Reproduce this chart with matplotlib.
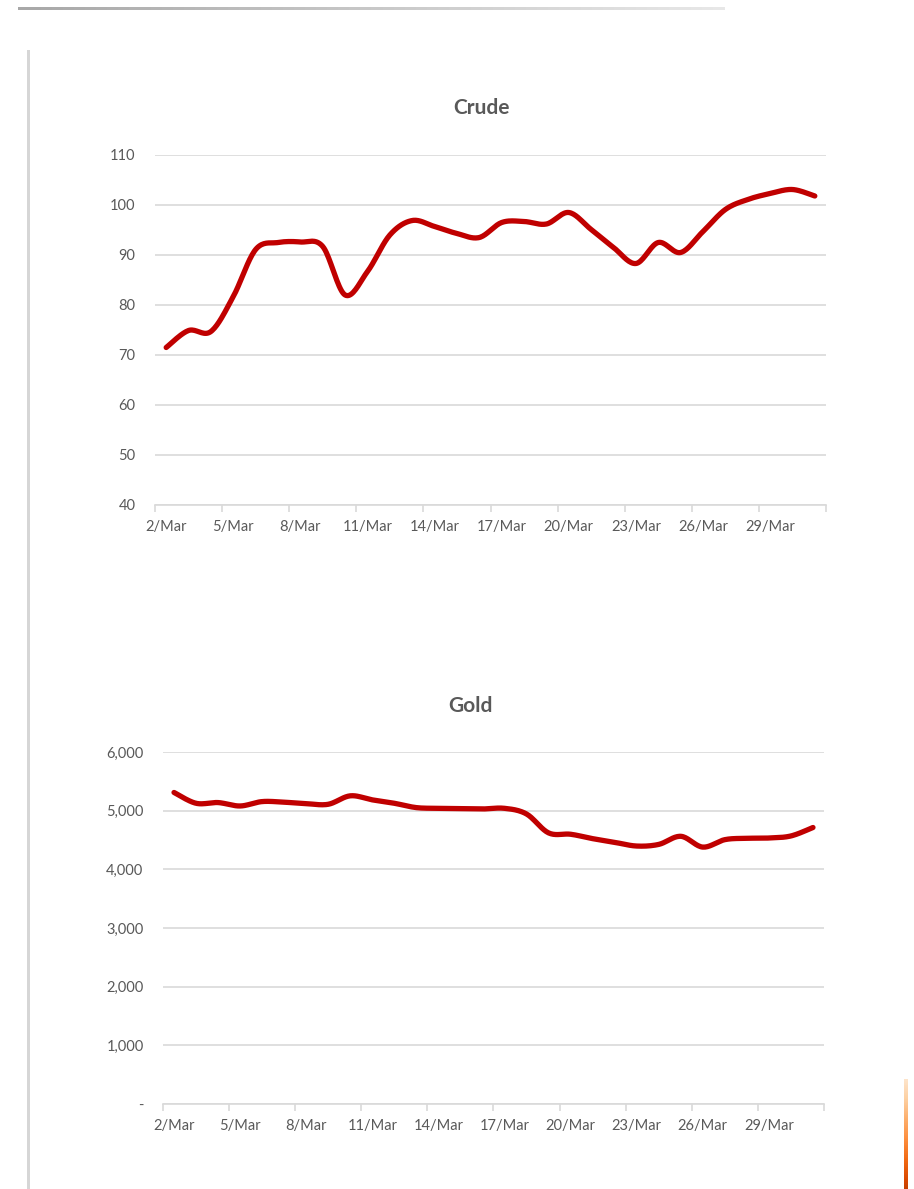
import numpy as np
import matplotlib.pyplot as plt
from matplotlib.ticker import FuncFormatter
from matplotlib.colors import LinearSegmentedColormap

# data
days = list(range(2, 32))
labels = [f"{d}/Mar" for d in days]
crude = [71.5, 74.9, 74.7, 81.7, 91.1, 92.5, 92.6, 91.7, 82.0, 86.7,
         94.0, 96.9, 95.7, 94.3, 93.5, 96.5, 96.7, 96.2, 98.5, 95.1,
         91.5, 88.3, 92.5, 90.5, 94.7, 99.1, 101.1, 102.3, 103.1, 101.8]
gold = [5310, 5126, 5138, 5080, 5155, 5144, 5120, 5109, 5253, 5184,
        5126, 5052, 5040, 5034, 5029, 5040, 4943, 4621, 4598, 4523,
        4460, 4397, 4425, 4563, 4379, 4506, 4529, 4534, 4569, 4713]

TXT = '#595959'
GRID = '#d9d9d9'
RED = '#c00000'
plt.rcParams['font.family'] = ['Lato', 'DejaVu Sans']


def smooth(y, n=20):
    # excel-like smoothed line: cubic bezier through each point
    x = np.arange(len(y), dtype=float)
    y = np.asarray(y, dtype=float)
    xs, ys = [], []
    t = np.linspace(0, 1, n)[:, None]
    pts = np.column_stack([x, y])
    for i in range(len(pts) - 1):
        p0 = pts[max(i - 1, 0)]
        p1 = pts[i]
        p2 = pts[i + 1]
        p3 = pts[min(i + 2, len(pts) - 1)]
        c1 = p1 + (p2 - p0) / 6
        c2 = p2 - (p3 - p1) / 6
        b = ((1 - t) ** 3) * p1 + 3 * ((1 - t) ** 2) * t * c1 + 3 * (1 - t) * t ** 2 * c2 + t ** 3 * p2
        xs.append(b[:, 0])
        ys.append(b[:, 1])
    return np.concatenate(xs), np.concatenate(ys)


def style_axes(ax, ymin, ymax, step):
    n = len(labels)
    ax.set_xlim(-0.5, n - 0.5)
    ax.set_ylim(ymin, ymax)
    ax.set_yticks(np.arange(ymin, ymax + step / 2, step))
    for s in ['top', 'right', 'left']:
        ax.spines[s].set_visible(False)
    ax.spines['bottom'].set_color(GRID)
    ax.spines['bottom'].set_linewidth(1.2)
    ax.grid(axis='y', color=GRID, lw=1.2)
    ax.set_axisbelow(True)
    ax.set_xticks(np.arange(-0.5, n, 3))
    ax.set_xticklabels([])
    ax.tick_params(axis='x', which='major', length=5, color=GRID, width=1.2)
    ax.set_xticks(np.arange(0, n, 3), minor=True)
    ax.set_xticklabels(labels[::3], minor=True)
    ax.tick_params(axis='x', which='minor', length=0, pad=11, labelsize=10.5, labelcolor=TXT)
    ax.tick_params(axis='y', length=0, pad=14, labelsize=10.5, labelcolor=TXT)


fig = plt.figure(figsize=(9.14, 11.89), dpi=100)
W, H = 914, 1189

# crude chart
ax1 = fig.add_axes([155 / W, 1 - 505 / H, 671 / W, 350 / H])
xs, ys = smooth(crude)
ax1.plot(xs, ys, color=RED, lw=3.8, solid_capstyle='round')
style_axes(ax1, 40, 110, 10)
fig.text(482 / W, 1 - 108 / H, 'Crude', ha='center', va='center',
         fontsize=15, fontweight='bold', color=TXT)

# gold chart
ax2 = fig.add_axes([163 / W, 1 - 1104 / H, 661 / W, 352 / H])
xs, ys = smooth(gold)
ax2.plot(xs, ys, color=RED, lw=3.8, solid_capstyle='round')
style_axes(ax2, 0, 6000, 1000)
ax2.yaxis.set_major_formatter(FuncFormatter(lambda v, p: '-' if v == 0 else f"{int(v):,}"))
fig.text(470 / W, 1 - 706 / H, 'Gold', ha='center', va='center',
         fontsize=15, fontweight='bold', color=TXT)

# page decorations
grey_fade = LinearSegmentedColormap.from_list('gf', ['#a8a8a8', '#e8e8e8'])
top = fig.add_axes([18 / W, 1 - 10 / H, 707 / W, 3.5 / H])
top.imshow(np.linspace(0, 1, 256)[None, :], aspect='auto', cmap=grey_fade)
top.axis('off')

left = fig.add_axes([27 / W, 0, 2.5 / W, 1 - 50 / H])
left.set_facecolor('#d6d6d6')
left.set_xticks([])
left.set_yticks([])
for s in left.spines.values():
    s.set_visible(False)

orange = fig.add_axes([904 / W, 0, 4 / W, 110 / H])
orange.imshow(np.linspace(0, 1, 256)[:, None], aspect='auto', cmap='Oranges',
              vmin=-0.2, vmax=1.3)
orange.axis('off')

fig.savefig('out.png', dpi=100)
